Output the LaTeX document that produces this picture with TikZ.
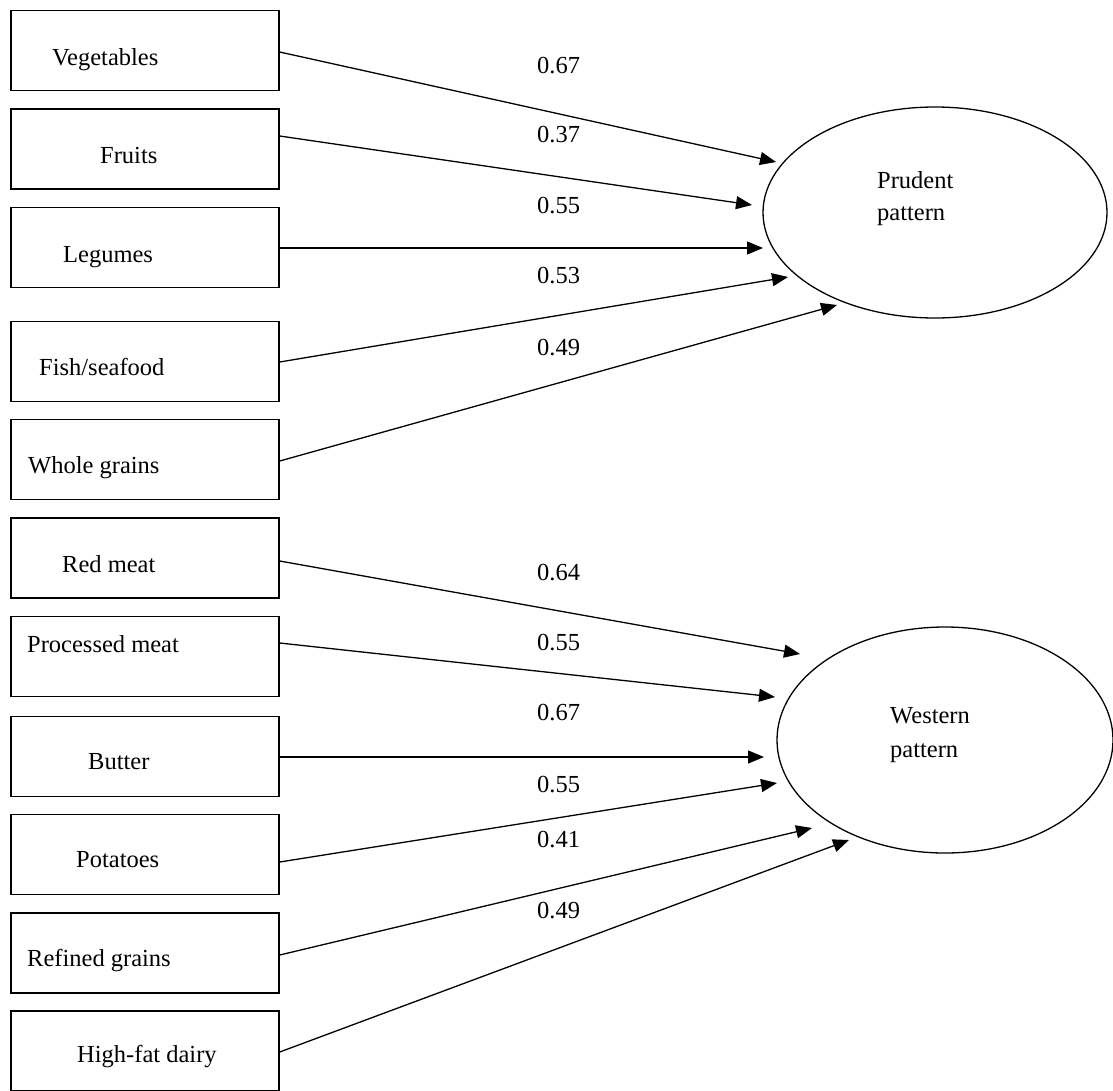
\documentclass[tikz,border=0pt]{standalone}
\usepackage{fontspec}
\setmainfont{Liberation Serif}
\usetikzlibrary{arrows.meta,shapes.geometric}
\begin{document}
\begin{tikzpicture}[x=1pt,y=-1pt,
  box/.style={draw, line width=1.4pt, minimum width=268pt, minimum height=80pt, inner sep=0pt},
  lbl/.style={font=\fontsize{24.5}{28}\selectfont, anchor=base west, inner sep=0pt},
  lat/.style={draw, ellipse, line width=1.3pt, inner sep=0pt},
  conn/.style={line width=1.3pt, -{Triangle[length=16pt,width=13pt]}}]
\useasboundingbox[fill=white] (0,0) rectangle (1113,1090);

% boxes
\node[box] (veg) at (145,50.5) {};
\node[box] (fru) at (145,149) {};
\node[box] (leg) at (145,247.5) {};
\node[box] (fis) at (145,361.5) {};
\node[box] (who) at (145,459.5) {};
\node[box] (red) at (145,558) {};
\node[box] (pro) at (145,656.5) {};
\node[box] (but) at (145,756.5) {};
\node[box] (pot) at (145,854.5) {};
\node[box] (ref) at (145,953) {};
\node[box] (hig) at (145,1051) {};

% box texts
\node[lbl] (tveg) at (52,65) {Vegetables};
\node[lbl] (tfru) at (100,163) {Fruits};
\node[lbl] (tleg) at (63,262) {Legumes};
\node[lbl] (tfis) at (39,375) {Fish/seafood};
\node[lbl] (twho) at (28,473) {Whole grains};
\node[lbl] (tred) at (62,572) {Red meat};
\node[lbl] (tpro) at (27,652) {Processed meat};
\node[lbl] (tbut) at (88,769) {Butter};
\node[lbl] (tpot) at (76,867) {Potatoes};
\node[lbl] (tref) at (27,966) {Refined grains};
\node[lbl] (thig) at (77,1062) {High-fat dairy};

% latent variables
\node[lat, minimum width=344pt, minimum height=211pt] (prud) at (935,212.5) {};
\node[lat, minimum width=336pt, minimum height=226pt] (west) at (945,740) {};
\node[lbl] (tprud1) at (877,188) {Prudent};
\node[lbl] (tprud2) at (877,220) {pattern};
\node[lbl] (twest1) at (890,723) {Western};
\node[lbl] (twest2) at (890,757) {pattern};

% arrow tips
\coordinate (pv) at (776,162);
\coordinate (pf) at (752,205);
\coordinate (pl) at (763,248);
\coordinate (pfi) at (788,277);
\coordinate (pw) at (837,305);
\coordinate (wr) at (800,654);
\coordinate (wp) at (775,697);
\coordinate (wb) at (764,757);
\coordinate (wpo) at (777,783);
\coordinate (wre) at (812,828);
\coordinate (wh) at (849,840);

% connectors
\draw[conn] ([yshift=-1.5pt]veg.east) -- (pv);
\draw[conn] ([yshift=13pt]fru.east) -- (pf);
\draw[conn] ([yshift=-0.5pt]leg.east) -- (pl);
\draw[conn] ([yshift=-0.5pt]fis.east) -- (pfi);
\draw[conn] ([yshift=-1.5pt]who.east) -- (pw);
\draw[conn] ([yshift=-3pt]red.east) -- (wr);
\draw[conn] ([yshift=13.5pt]pro.east) -- (wp);
\draw[conn] ([yshift=-0.5pt]but.east) -- (wb);
\draw[conn] ([yshift=-7.5pt]pot.east) -- (wpo);
\draw[conn] ([yshift=-2pt]ref.east) -- (wre);
\draw[conn] ([yshift=-1pt]hig.east) -- (wh);

% loadings
\node[lbl] (n1) at (537,73) {0.67};
\node[lbl] (n2) at (537,142) {0.37};
\node[lbl] (n3) at (537,213) {0.55};
\node[lbl] (n4) at (537,283) {0.53};
\node[lbl] (n5) at (537,355) {0.49};
\node[lbl] (n6) at (537,580) {0.64};
\node[lbl] (n7) at (537,650) {0.55};
\node[lbl] (n8) at (537,720) {0.67};
\node[lbl] (n9) at (537,792) {0.55};
\node[lbl] (n10) at (537,847) {0.41};
\node[lbl] (n11) at (537,918) {0.49};
\end{tikzpicture}
\end{document}
